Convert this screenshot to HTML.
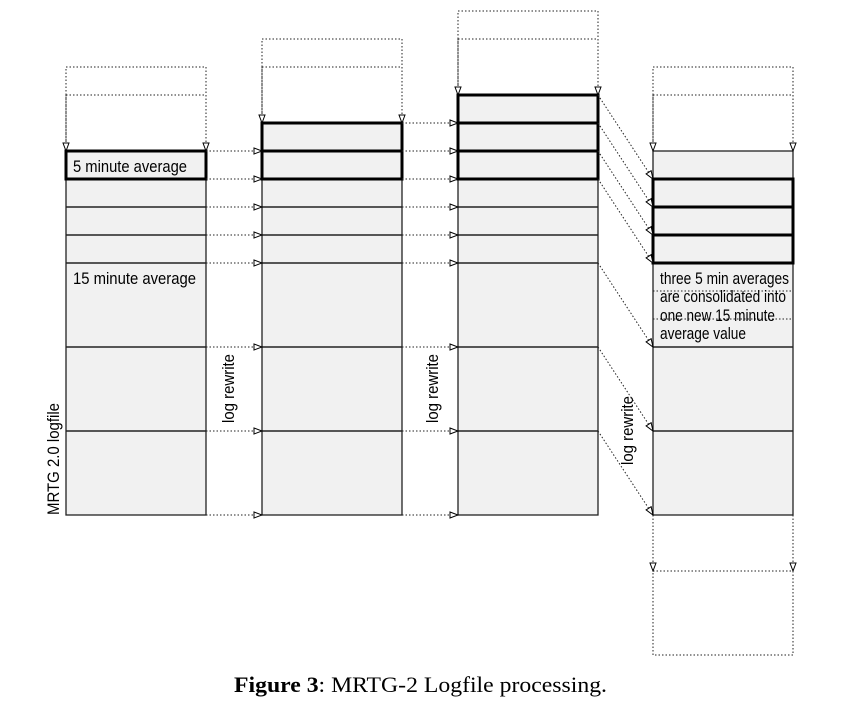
<!DOCTYPE html>
<html><head><style>body{margin:0;background:#fff}svg{display:block}</style></head><body>
<svg width="861" height="715" viewBox="0 0 861 715" xmlns="http://www.w3.org/2000/svg" font-family="Liberation Sans, sans-serif">
<defs>
<marker id="a" markerWidth="10" markerHeight="8" refX="9" refY="4" orient="auto" markerUnits="userSpaceOnUse">
<path d="M1,1 L9,4 L1,7 Z" fill="#fff" stroke="#000" stroke-width="1"/>
</marker>
</defs>
<g fill="#f1f1f1" stroke="#222" stroke-width="1.3">
<rect x="66" y="151" width="140" height="364"/>
<rect x="262" y="123" width="140" height="392"/>
<rect x="458" y="95" width="140" height="420"/>
<rect x="653" y="151" width="140" height="364"/>
</g>
<g stroke="#222" stroke-width="1.4">
<path d="M66 207H206M66 235H206M66 263H206M66 347H206M66 431H206"/>
<path d="M262 207H402M262 235H402M262 263H402M262 347H402M262 431H402"/>
<path d="M458 207H598M458 235H598M458 263H598M458 347H598M458 431H598"/>
<path d="M653 347H793M653 431H793"/>
</g>
<g fill="none" stroke="#000" stroke-width="3">
<rect x="66" y="151" width="140" height="28"/>
<rect x="262" y="123" width="140" height="56"/><path d="M262 151H402"/>
<rect x="458" y="95" width="140" height="84"/><path d="M458 123H598M458 151H598"/>
<rect x="653" y="179" width="140" height="84"/><path d="M653 207H793M653 235H793"/>
</g>
<g fill="none" stroke="#222" stroke-width="1" stroke-dasharray="1.5,2">
<path d="M66 151V67H206V151M66 95H206"/>
<path d="M262 123V39H402V123M262 67H402"/>
<path d="M458 95V11H598V95M458 39H598"/>
<path d="M653 151V67H793V151M653 95H793"/>
<path d="M653 515V571M793 515V571M653 571H793V655H653Z"/>
<path d="M653 291H793M653 319H793"/>
</g>
<g fill="none" stroke="#222" stroke-width="1" stroke-dasharray="1.5,2" marker-end="url(#a)">
<path d="M66 95V151"/><path d="M206 95V151"/>
<path d="M262 67V123"/><path d="M402 67V123"/>
<path d="M458 39V95"/><path d="M598 39V95"/>
<path d="M653 95V151"/><path d="M793 95V151"/>
<path d="M653 515V571"/><path d="M793 515V571"/>
<path d="M206 151H262"/><path d="M206 179H262"/><path d="M206 207H262"/><path d="M206 235H262"/><path d="M206 263H262"/><path d="M206 347H262"/><path d="M206 431H262"/><path d="M206 515H262"/>
<path d="M402 123H458"/><path d="M402 151H458"/><path d="M402 179H458"/><path d="M402 207H458"/><path d="M402 235H458"/><path d="M402 263H458"/><path d="M402 347H458"/><path d="M402 431H458"/><path d="M402 515H458"/>
<path d="M598 95L653 179"/><path d="M598 123L653 207"/><path d="M598 151L653 235"/><path d="M598 179L653 263"/><path d="M598 263L653 347"/><path d="M598 347L653 431"/><path d="M598 431L653 515"/>
</g>
<g font-size="17" fill="#000">
<text x="73" y="172" textLength="114" lengthAdjust="spacingAndGlyphs">5 minute average</text>
<text x="73" y="284" textLength="123" lengthAdjust="spacingAndGlyphs">15 minute average</text>
<text x="660" y="284" textLength="129" lengthAdjust="spacingAndGlyphs">three 5 min averages</text>
<text x="660" y="302" textLength="126" lengthAdjust="spacingAndGlyphs">are consolidated into</text>
<text x="660" y="321" textLength="115" lengthAdjust="spacingAndGlyphs">one new 15 minute</text>
<text x="660" y="339" textLength="86" lengthAdjust="spacingAndGlyphs">average value</text>
<text transform="translate(59,515) rotate(-90)" textLength="112" lengthAdjust="spacingAndGlyphs">MRTG 2.0 logfile</text>
<text transform="translate(234,423) rotate(-90)" textLength="69" lengthAdjust="spacingAndGlyphs">log rewrite</text>
<text transform="translate(438,423) rotate(-90)" textLength="69" lengthAdjust="spacingAndGlyphs">log rewrite</text>
<text transform="translate(633,465) rotate(-90)" textLength="69" lengthAdjust="spacingAndGlyphs">log rewrite</text>
</g>
<text x="234" y="692" font-family="Liberation Serif, serif" font-size="22" textLength="373" lengthAdjust="spacingAndGlyphs"><tspan font-weight="bold">Figure 3</tspan>:   MRTG-2 Logfile processing.</text>
</svg>
</body></html>
